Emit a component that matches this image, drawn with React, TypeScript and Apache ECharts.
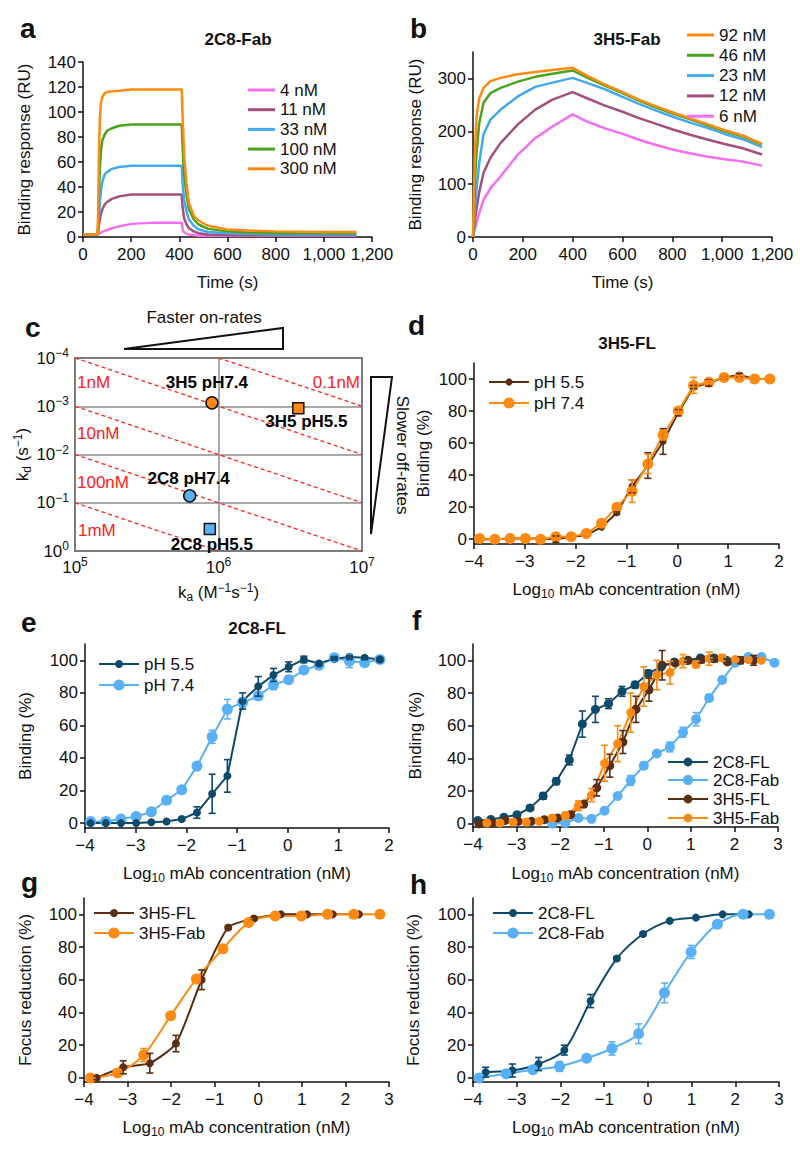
import React, { useEffect, useRef } from 'react';
import * as echarts from 'echarts';

const FONT = "'Liberation Sans', Arial, Helvetica, sans-serif";
const INK = '#111111';
const FS = 17;

const C_PINK = '#f46ef0';
const C_MAUVE = '#a44f7e';
const C_SKY = '#44a9f3';
const C_GREEN = '#4aa31c';
const C_ORANGE = '#ff8a12';
const C_BROWN = '#5a2e10';
const C_NAVY = '#0d4a6b';
const C_LIGHT = '#5ab0f7';
const C_RED = '#ff2020';

// ---------- panel a : 2C8-Fab sensorgram ----------
const aLabels = ['4 nM', '11 nM', '33 nM', '100 nM', '300 nM'];
const aTime = [0, 60, 63, 66, 70, 75, 80, 90, 100, 120, 150, 200, 300, 410, 413, 416, 420, 430, 440, 460, 480, 520, 600, 700, 800, 1000, 1135];
const a4nM = [2, 2, 2, 2.5, 3, 3.5, 4, 5, 5.5, 7, 8.5, 10.5, 11.5, 11.5, 7, 5, 4, 2.5, 2, 1.5, 1, 1, 1, 1, 1, 1, 1];
const a11nM = [2, 2, 4, 9, 14, 19, 22, 26, 28, 30.5, 32.5, 34, 34, 34, 25, 20, 15, 10, 7, 4.5, 3, 2, 1.5, 1.5, 1.5, 1.5, 1.5];
const a33nM = [2, 2, 6, 16, 28, 38, 44, 50, 52, 54.5, 56, 57, 57, 57, 45, 37, 30, 20, 14, 9, 6, 4, 3, 2.5, 2, 2, 2];
const a100nM = [2, 2, 10, 32, 55, 70, 77, 82, 85, 87, 89, 90, 90, 90, 75, 62, 50, 33, 22, 14, 10, 6.5, 4.5, 3.5, 3, 3, 3];
const a300nM = [2, 2, 20, 65, 95, 108, 112, 115, 116, 116.5, 117, 118, 118, 118, 100, 85, 65, 42, 27, 17, 13, 9, 6, 5, 4.5, 4, 4];

// ---------- panel b : 3H5-Fab sensorgram ----------
const bLabels = ['92 nM', '46 nM', '23 nM', '12 nM', '6 nM'];
const bTime = [0, 5, 10, 15, 25, 42, 70, 111, 180, 250, 319, 400, 460, 527, 600, 666, 735, 805, 875, 943, 1010, 1082, 1160];
const b92nM = [0, 110, 190, 230, 262, 282, 295, 301, 308, 312, 316, 320, 305, 289, 274, 260, 247, 235, 224, 213, 202, 192, 176];
const b46nM = [0, 65, 125, 165, 215, 254, 272, 282, 294, 303, 309, 315, 301, 287, 272, 258, 245, 233, 222, 211, 200, 190, 175];
const b23nM = [0, 35, 65, 95, 140, 194, 222, 241, 266, 284, 292, 301, 291, 280, 265, 252, 239, 227, 216, 206, 195, 185, 170];
const b12nM = [0, 20, 40, 55, 85, 121, 150, 178, 213, 241, 260, 274, 262, 249, 237, 225, 214, 203, 193, 184, 176, 168, 156];
const b6nM = [0, 10, 20, 28, 45, 70, 92, 115, 156, 187, 209, 232, 218, 206, 195, 184, 174, 165, 158, 152, 147, 143, 135];

// ---------- panel c : kinetics map ----------
const cNames = ['3H5 pH7.4', '3H5 pH5.5', '2C8 pH7.4', '2C8 pH5.5'];
const cKa = [9.0e5, 3.6e6, 6.3e5, 8.7e5];
const cKd = [8.5e-4, 1.1e-3, 7.2e-2, 3.5e-1];
const cKD = [1e-10, 1e-9, 1e-8, 1e-7, 1e-6];
const cKDLabels = ['0.1nM', '1nM', '10nM', '100nM', '1mM'];

// ---------- panel d : 3H5-FL ----------
const dX = [-3.89, -3.59, -3.29, -2.99, -2.69, -2.39, -2.09, -1.79, -1.49, -1.19, -0.89, -0.58, -0.28, 0.02, 0.32, 0.62, 0.92, 1.22, 1.52, 1.82];
const dPH55 = [0, 0, 0.5, 0.5, 0.5, 0, 1.5, 2.5, 7.5, 16.5, 33, 46, 61, 79, 95, 97.5, 101, 102.5, 100, 100];
const dPH55Err = [0, 0, 0, 0, 0, 2, 0, 0, 0, 1, 4, 8, 8, 2, 1, 2, 1, 1, 0, 0];
const dPH74 = [0.5, 0, 0.5, 0.5, 0, 1.5, 1.5, 3.5, 10, 20, 30, 47, 65, 80, 96, 98, 101, 101, 100, 100];
const dPH74Err = [0, 0, 0, 0, 0, 2, 1, 1, 1, 2, 7, 6, 3, 2, 5, 1, 1, 1, 0, 0];

// ---------- panel e : 2C8-FL ----------
const eX = [-3.89, -3.59, -3.29, -2.99, -2.69, -2.39, -2.09, -1.79, -1.49, -1.19, -0.89, -0.58, -0.28, 0.02, 0.32, 0.62, 0.92, 1.22, 1.52, 1.82];
const ePH55 = [0, 0, 0, 0, 0.5, 1, 2.5, 6.5, 18, 29, 75, 84, 91, 96, 100.5, 98, 101, 102, 101.5, 100.5];
const ePH55Err = [0, 0, 0, 0, 0, 0, 1, 3.5, 12, 10, 5, 6, 4, 3, 2, 1, 1, 1, 1, 1];
const ePH74 = [1, 1, 2.5, 4, 7, 14, 20.5, 35, 53, 70, 74, 78, 85, 88, 94, 97, 101.5, 99.5, 98.5, 100.5];
const ePH74Err = [0, 0, 0, 0, 0, 0, 1, 1, 4, 6, 3, 2, 3, 2, 2, 0, 2, 4, 1, 0];

// ---------- panel f : binding, FL vs Fab ----------
const f2C8FLX = [-3.89, -3.59, -3.29, -2.99, -2.69, -2.39, -2.09, -1.79, -1.49, -1.19, -0.89, -0.58, -0.28, 0.02, 0.32, 0.62, 0.92, 1.22, 1.52, 1.82];
const f2C8FL = [2, 2.6, 4, 5.5, 9.7, 17, 26, 39, 61, 70, 73.5, 81, 85, 92, 96, 99, 100, 101.5, 101.5, 100];
const f2C8FLErr = [0, 0, 0, 0, 1.5, 2, 2, 3, 8, 8, 3, 3, 2, 2, 1, 1, 1, 1, 1, 1];
const f2C8FabX = [-2.18, -1.88, -1.58, -1.28, -0.98, -0.68, -0.38, -0.08, 0.22, 0.52, 0.82, 1.12, 1.42, 1.72, 2.02, 2.32, 2.62, 2.92];
const f2C8Fab = [0, 0.5, 3.5, 3, 8, 17, 26.5, 35.5, 43, 47, 56, 64, 77, 88, 98.5, 102, 102, 98.5];
const f2C8FabErr = [0, 0, 0, 0, 0, 0, 3, 2, 1, 3, 3, 4, 2, 1, 1, 1, 1, 0];
const f3H5FLX = [-3.86, -3.56, -3.26, -2.96, -2.66, -2.36, -2.06, -1.76, -1.46, -1.16, -0.86, -0.56, -0.26, 0.04, 0.34, 0.64, 0.94, 1.24, 1.54, 1.84, 2.14, 2.44];
const f3H5FL = [0, 0.5, 2, 1.5, 1.5, 2.5, 3.5, 5.5, 12, 22, 35.5, 50, 70, 82, 97, 98.5, 100, 100.5, 101, 99, 100, 100];
const f3H5FLErr = [0, 0, 0, 0, 0, 0, 0, 0, 2, 5, 7, 7, 8, 7, 9, 1, 1, 2, 2, 1, 2, 3];
const f3H5FabX = [-3.68, -3.38, -3.08, -2.78, -2.48, -2.18, -1.88, -1.58, -1.28, -0.98, -0.68, -0.38, -0.08, 0.22, 0.52, 0.82, 1.12, 1.42, 1.72, 2.02, 2.32, 2.62];
const f3H5Fab = [0.5, 0.5, 1, 1, 1.5, 3.5, 5, 11, 17.5, 37, 49, 68, 84, 91, 92.5, 99.5, 97.5, 101, 101.5, 100.5, 100.5, 100];
const f3H5FabErr = [0, 0, 0, 0, 0, 1, 2, 3, 4, 11, 11, 12, 12, 9, 7, 4, 2, 4, 2, 1, 1, 1];

// ---------- panel g : focus reduction 3H5 ----------
const g3H5FLX = [-3.71, -3.10, -2.49, -1.89, -1.30, -0.69, -0.10, 0.52, 1.12, 1.71, 2.31];
const g3H5FL = [0, 6.5, 9, 21, 60, 92, 97.5, 100, 100, 100, 100];
const g3H5FLErr = [1, 4, 6, 5, 6, 1, 1, 0, 0, 0, 0];
const g3H5FabX = [-3.85, -3.23, -2.63, -2.01, -1.42, -0.81, -0.22, 0.39, 0.99, 1.59, 2.19, 2.79];
const g3H5Fab = [0, 3, 14, 38, 60.5, 79, 95, 99, 99, 100, 100, 100];
const g3H5FabErr = [0, 1, 4, 1, 2, 1, 1, 0, 0, 0, 0, 0];

// ---------- panel h : focus reduction 2C8 ----------
const h2C8FLX = [-3.71, -3.10, -2.50, -1.91, -1.31, -0.71, -0.11, 0.50, 1.10, 1.71, 2.31];
const h2C8FL = [3.5, 4.5, 8.5, 17, 47, 73, 88, 96, 98, 100, 100];
const h2C8FLErr = [3, 4, 4, 3, 4, 1, 1, 0, 0, 0, 0];
const h2C8FabX = [-3.86, -3.24, -2.63, -2.02, -1.40, -0.82, -0.21, 0.38, 0.99, 1.59, 2.18, 2.78];
const h2C8Fab = [0, 2.5, 5, 7, 12, 18, 27, 52, 77, 94, 100, 100];
const h2C8FabErr = [0, 1, 2, 3, 1, 4, 6, 6, 4, 1, 0, 0];

const pctTicks = [0, 20, 40, 60, 80, 100];

// ------------------------------------------------------------
const strip = (n: string) => n.slice(2);
const lineStyleAxis = { color: INK, width: 1.5 };
const richDefs = {
  sub: { fontSize: 12, fontFamily: FONT, color: INK, verticalAlign: 'bottom' as const },
  sup: { fontSize: 12, fontFamily: FONT, color: INK, verticalAlign: 'top' as const },
};
const nameStyle = { fontSize: FS, fontFamily: FONT, color: INK, lineHeight: 21, rich: richDefs };
const labelBase = { fontSize: FS, fontFamily: FONT, color: INK };
const minusFmt = (v: number) => (v < 0 ? '\u2212' + Math.abs(v) : String(v));
const thouFmt = (v: number) => v.toLocaleString('en-US');

function xAxisV(grid: number, min: number, max: number, interval: number, name: string, nameGap: number, fmt: (v: number) => string) {
  return {
    type: 'value', gridIndex: grid, min, max, interval, name, nameLocation: 'middle', nameGap,
    nameTextStyle: nameStyle,
    axisLine: { show: true, onZero: false, lineStyle: lineStyleAxis },
    axisTick: { show: true, length: 5, lineStyle: lineStyleAxis },
    axisLabel: { ...labelBase, margin: 9, formatter: fmt },
    splitLine: { show: false },
  };
}
function yAxisV(grid: number, min: number, max: number, ticks: number[], name: string, nameGap: number) {
  return {
    type: 'value', gridIndex: grid, min, max, name, nameLocation: 'middle', nameGap,
    nameTextStyle: nameStyle,
    axisLine: { show: true, onZero: false, lineStyle: lineStyleAxis },
    axisTick: { show: true, length: 5, lineStyle: lineStyleAxis, customValues: ticks },
    axisLabel: { ...labelBase, margin: 7, customValues: ticks },
    splitLine: { show: false },
  };
}

function trace(name: string, grid: number, xs: number[], ys: number[], color: string) {
  return {
    type: 'line', name, xAxisIndex: grid, yAxisIndex: grid,
    data: xs.map((x, i) => [x, ys[i]]),
    symbol: 'none', showSymbol: false, color,
    lineStyle: { color, width: 2.5 }, silent: true,
  };
}
function curve(name: string, grid: number, xs: number[], ys: number[], color: string, size: number, smooth: number | boolean) {
  return {
    type: 'line', name, xAxisIndex: grid, yAxisIndex: grid,
    data: xs.map((x, i) => [x, ys[i]]),
    symbol: 'circle', symbolSize: size, showSymbol: true, color,
    itemStyle: { color, opacity: 1 }, lineStyle: { color, width: 2 }, smooth, z: 3, silent: true,
  };
}
function errRender(color: string) {
  return (_p: any, api: any) => {
    const x = api.value(0);
    const top = api.coord([x, api.value(2)]);
    const bot = api.coord([x, api.value(1)]);
    const cap = 3.5;
    const style = { stroke: color, lineWidth: 1.6 };
    return {
      type: 'group',
      children: [
        { type: 'line', shape: { x1: top[0], y1: top[1], x2: bot[0], y2: bot[1] }, style },
        { type: 'line', shape: { x1: top[0] - cap, y1: top[1], x2: top[0] + cap, y2: top[1] }, style },
        { type: 'line', shape: { x1: bot[0] - cap, y1: bot[1], x2: bot[0] + cap, y2: bot[1] }, style },
      ],
    };
  };
}
function errs(name: string, grid: number, xs: number[], ys: number[], es: number[], color: string) {
  const data = xs.map((x, i) => [x, ys[i] - es[i], ys[i] + es[i]]).filter((_d, i) => es[i] > 0);
  return {
    type: 'custom', name, xAxisIndex: grid, yAxisIndex: grid, data,
    renderItem: errRender(color), z: 4, silent: true, encode: { x: 0, y: [1, 2] },
  };
}
function oneLegend(name: string, left: number, cy: number, symbolSize: number) {
  const ih = Math.round(symbolSize / 0.8);
  return {
    data: [name], left, top: cy - Math.max(ih, FS) / 2, orient: 'horizontal',
    itemWidth: 40, itemHeight: ih, padding: 0, selectedMode: false,
    textStyle: { ...labelBase }, formatter: strip,
  };
}
function txt(text: string, x: number, y: number, size: number, opts: any = {}) {
  const align = opts.align || 'center';
  return {
    type: 'text', x, y, rotation: opts.rotation || 0, silent: true,
    style: {
      text, fill: opts.color || INK, fontSize: size, fontFamily: FONT,
      fontWeight: opts.bold ? 'bold' : 'normal',
      align, verticalAlign: 'middle', textAlign: align, textVerticalAlign: 'middle',
    },
  };
}

function buildOption() {
  const grids = [
    { left: 83, top: 62, width: 289, height: 175 },                 // a
    { left: 473, top: 52, width: 299, height: 185 },                // b
    { left: 75, top: 358, width: 287, height: 193, show: true, borderColor: INK, borderWidth: 1.5, backgroundColor: 'transparent' }, // c
    { left: 474, top: 363, width: 305, height: 181 },               // d
    { left: 85, top: 644, width: 304, height: 184 },                // e
    { left: 473, top: 644, width: 305, height: 183 },               // f
    { left: 84, top: 898, width: 305, height: 184 },                // g
    { left: 473, top: 898, width: 306, height: 184 },               // h
  ];

  const logLabel = {
    ...labelBase, lineHeight: 22,
    rich: { sup: { fontSize: 12, fontFamily: FONT, color: INK, verticalAlign: 'top' as const } },
  };
  const expFmt = (v: number) => {
    const e = Math.round(Math.log10(v));
    return '10{sup|' + (e < 0 ? '\u2212' + Math.abs(e) : String(e)) + '}';
  };
  const concName = 'Log{sub|10} mAb concentration (nM)';

  const xAxes: any[] = [
    xAxisV(0, 0, 1200, 200, 'Time (s)', 35, thouFmt),
    xAxisV(1, 0, 1200, 200, 'Time (s)', 35, thouFmt),
    {
      type: 'log', logBase: 10, gridIndex: 2, min: 1e5, max: 1e7,
      name: 'k{sub|a} (M{sup|\u22121}s{sup|\u22121})', nameLocation: 'middle', nameGap: 31,
      nameTextStyle: nameStyle,
      axisLine: { show: false }, axisTick: { show: false },
      axisLabel: { ...logLabel, margin: 5, formatter: expFmt },
      splitLine: { show: true, lineStyle: { color: '#8c8c8c', width: 1.5 } },
    },
    xAxisV(3, -4, 2, 1, concName, 35, minusFmt),
    xAxisV(4, -4, 2, 1, concName, 35, minusFmt),
    xAxisV(5, -4, 3, 1, concName, 36, minusFmt),
    xAxisV(6, -4, 3, 1, concName, 35, minusFmt),
    xAxisV(7, -4, 3, 1, concName, 35, minusFmt),
  ];
  const yAxes: any[] = [
    yAxisV(0, 0, 140, [0, 20, 40, 60, 80, 100, 120, 140], 'Binding response (RU)', 48),
    yAxisV(1, 0, 350, [0, 100, 200, 300], 'Binding response (RU)', 47),
    {
      type: 'log', logBase: 10, gridIndex: 2, min: 1e-4, max: 1, inverse: true,
      name: 'k{sub|d} (s{sup|\u22121})', nameLocation: 'middle', nameGap: 40,
      nameTextStyle: nameStyle,
      axisLine: { show: false }, axisTick: { show: false },
      axisLabel: { ...logLabel, margin: 6, formatter: expFmt },
      splitLine: { show: true, lineStyle: { color: '#8c8c8c', width: 1.5 } },
    },
    yAxisV(3, -3, 110, pctTicks, 'Binding (%)', 40),
    yAxisV(4, -3, 110, pctTicks, 'Binding (%)', 49),
    yAxisV(5, -2, 110, pctTicks, 'Binding (%)', 47),
    yAxisV(6, -2.5, 110, pctTicks, 'Focus reduction (%)', 48),
    yAxisV(7, -2.5, 110, pctTicks, 'Focus reduction (%)', 49),
  ];

  const series: any[] = [];
  // a
  const aSets = [a4nM, a11nM, a33nM, a100nM, a300nM];
  const aColors = [C_PINK, C_MAUVE, C_SKY, C_GREEN, C_ORANGE];
  aSets.forEach((ys, i) => series.push(trace('a:' + aLabels[i], 0, aTime, ys, aColors[i])));
  // b (draw lowest first)
  const bSets = [b92nM, b46nM, b23nM, b12nM, b6nM];
  const bColors = [C_ORANGE, C_GREEN, C_SKY, C_MAUVE, C_PINK];
  for (let i = bSets.length - 1; i >= 0; i--) series.push(trace('b:' + bLabels[i], 1, bTime, bSets[i], bColors[i]));

  // c: iso-affinity lines
  cKD.forEach((kd, i) => {
    const ka0 = Math.max(1e5, 1e-4 / kd);
    const ka1 = Math.min(1e7, 1 / kd);
    series.push({
      type: 'line', name: 'c:iso' + i, xAxisIndex: 2, yAxisIndex: 2,
      data: [[ka0, kd * ka0], [ka1, kd * ka1]], symbol: 'none', silent: true,
      lineStyle: { color: C_RED, width: 1.3, type: [4, 3] }, z: 2,
    });
  });
  const cLook = [
    { symbol: 'circle', size: 12, color: C_ORANGE, pos: 'top', dist: 5, off: [-5, 0] },
    { symbol: 'rect', size: 11, color: C_ORANGE, pos: 'bottom', dist: 0, off: [8, -1] },
    { symbol: 'circle', size: 12, color: C_LIGHT, pos: 'top', dist: 2, off: [-1, 0] },
    { symbol: 'rect', size: 11, color: C_LIGHT, pos: 'bottom', dist: 1, off: [2, 0] },
  ];
  series.push({
    type: 'scatter', name: 'c:points', xAxisIndex: 2, yAxisIndex: 2, z: 5, silent: true,
    data: cNames.map((n, i) => ({
      name: n, value: [cKa[i], cKd[i]], symbol: cLook[i].symbol, symbolSize: cLook[i].size,
      itemStyle: { color: cLook[i].color, borderColor: INK, borderWidth: 1.5, opacity: 1 },
      label: {
        show: true, formatter: '{b}', position: cLook[i].pos, distance: cLook[i].dist, offset: cLook[i].off,
        fontSize: FS, fontWeight: 'bold', fontFamily: FONT, color: '#000000', opacity: 1,
      },
    })),
  });

  // d
  series.push(curve('d:pH 5.5', 3, dX, dPH55, C_BROWN, 7, false));
  series.push(curve('d:pH 7.4', 3, dX, dPH74, C_ORANGE, 11, false));
  series.push(errs('d:e55', 3, dX, dPH55, dPH55Err, C_BROWN));
  series.push(errs('d:e74', 3, dX, dPH74, dPH74Err, C_ORANGE));
  // e
  series.push(curve('e:pH 7.4', 4, eX, ePH74, C_LIGHT, 11, false));
  series.push(curve('e:pH 5.5', 4, eX, ePH55, C_NAVY, 8, false));
  series.push(errs('e:e74', 4, eX, ePH74, ePH74Err, C_LIGHT));
  series.push(errs('e:e55', 4, eX, ePH55, ePH55Err, C_NAVY));
  // f
  series.push(curve('f:2C8-FL', 5, f2C8FLX, f2C8FL, C_NAVY, 9, false));
  series.push(curve('f:2C8-Fab', 5, f2C8FabX, f2C8Fab, C_LIGHT, 10, false));
  series.push(curve('f:3H5-FL', 5, f3H5FLX, f3H5FL, C_BROWN, 9, false));
  series.push(curve('f:3H5-Fab', 5, f3H5FabX, f3H5Fab, C_ORANGE, 9, false));
  series.push(errs('f:e1', 5, f2C8FLX, f2C8FL, f2C8FLErr, C_NAVY));
  series.push(errs('f:e2', 5, f2C8FabX, f2C8Fab, f2C8FabErr, C_LIGHT));
  series.push(errs('f:e3', 5, f3H5FLX, f3H5FL, f3H5FLErr, C_BROWN));
  series.push(errs('f:e4', 5, f3H5FabX, f3H5Fab, f3H5FabErr, C_ORANGE));
  // g
  series.push(curve('g:3H5-FL', 6, g3H5FLX, g3H5FL, C_BROWN, 8, 0.2));
  series.push(curve('g:3H5-Fab', 6, g3H5FabX, g3H5Fab, C_ORANGE, 11, 0.3));
  series.push(errs('g:e1', 6, g3H5FLX, g3H5FL, g3H5FLErr, C_BROWN));
  series.push(errs('g:e2', 6, g3H5FabX, g3H5Fab, g3H5FabErr, C_ORANGE));
  // h
  series.push(curve('h:2C8-FL', 7, h2C8FLX, h2C8FL, C_NAVY, 8, 0.3));
  series.push(curve('h:2C8-Fab', 7, h2C8FabX, h2C8Fab, C_LIGHT, 11, 0.3));
  series.push(errs('h:e1', 7, h2C8FLX, h2C8FL, h2C8FLErr, C_NAVY));
  series.push(errs('h:e2', 7, h2C8FabX, h2C8Fab, h2C8FabErr, C_LIGHT));

  const legends: any[] = [
    {
      data: aLabels.map((l) => 'a:' + l), left: 248, top: 81.5, orient: 'vertical', icon: 'rect',
      itemWidth: 27, itemHeight: 3, itemGap: 2.7, padding: 0, selectedMode: false,
      textStyle: { ...labelBase }, formatter: strip,
    },
    {
      data: bLabels.map((l) => 'b:' + l), left: 687, top: 26.5, orient: 'vertical', icon: 'rect',
      itemWidth: 27, itemHeight: 3, itemGap: 3.3, padding: 0, selectedMode: false,
      textStyle: { ...labelBase }, formatter: strip,
    },
    oneLegend('d:pH 5.5', 488, 382, 7),
    oneLegend('d:pH 7.4', 488, 403, 11),
    oneLegend('e:pH 5.5', 98, 664, 8),
    oneLegend('e:pH 7.4', 98, 685, 11),
    oneLegend('f:2C8-FL', 667, 762, 9),
    oneLegend('f:2C8-Fab', 667, 780, 10),
    oneLegend('f:3H5-FL', 667, 799, 9),
    oneLegend('f:3H5-Fab', 667, 818, 9),
    oneLegend('g:3H5-FL', 93, 913, 8),
    oneLegend('g:3H5-Fab', 93, 933, 11),
    oneLegend('h:2C8-FL', 492, 913, 8),
    oneLegend('h:2C8-Fab', 492, 933, 11),
  ];

  const graphics: any[] = [
    // panel letters
    txt('a', 20, 28, 28, { bold: true, align: 'left' }),
    txt('b', 410, 28, 28, { bold: true, align: 'left' }),
    txt('c', 25, 327, 28, { bold: true, align: 'left' }),
    txt('d', 408, 325, 28, { bold: true, align: 'left' }),
    txt('e', 21, 622, 28, { bold: true, align: 'left' }),
    txt('f', 412, 620, 28, { bold: true, align: 'left' }),
    txt('g', 21, 882, 28, { bold: true, align: 'left' }),
    txt('h', 410, 884, 28, { bold: true, align: 'left' }),
    // titles
    txt('2C8-Fab', 238, 39, FS, { bold: true }),
    txt('3H5-Fab', 627, 39, FS, { bold: true }),
    txt('3H5-FL', 627, 343, FS, { bold: true }),
    txt('2C8-FL', 257, 628, FS, { bold: true }),
    // panel c annotations
    txt('Faster on-rates', 204, 317, FS),
    {
      type: 'polygon', silent: true,
      shape: { points: [[124, 349], [283, 328], [283, 349]] },
      style: { fill: 'none', stroke: INK, lineWidth: 2 },
    },
    {
      type: 'polygon', silent: true,
      shape: { points: [[371, 377], [392, 377], [371, 534]] },
      style: { fill: 'none', stroke: INK, lineWidth: 2 },
    },
    txt('Slower off-rates', 402, 455, FS, { rotation: -Math.PI / 2 }),
    txt(cKDLabels[0], 360, 382, FS, { color: C_RED, align: 'right' }),
    txt(cKDLabels[1], 77, 382, FS, { color: C_RED, align: 'left' }),
    txt(cKDLabels[2], 77, 433, FS, { color: C_RED, align: 'left' }),
    txt(cKDLabels[3], 77, 482, FS, { color: C_RED, align: 'left' }),
    txt(cKDLabels[4], 78, 530, FS, { color: C_RED, align: 'left' }),
  ];

  return {
    animation: false,
    backgroundColor: '#ffffff',
    textStyle: { fontFamily: FONT },
    grid: grids,
    xAxis: xAxes,
    yAxis: yAxes,
    legend: legends,
    series,
    graphic: { elements: graphics },
  };
}

export default function App() {
  const ref = useRef<HTMLDivElement>(null);
  useEffect(() => {
    document.body.style.margin = '0';
    const chart = echarts.init(ref.current as HTMLDivElement, null, { renderer: 'svg', width: 800, height: 1155 });
    chart.setOption(buildOption() as any);
    return () => chart.dispose();
  }, []);
  return (
    <div
      ref={ref}
      style={{ position: 'absolute', left: 0, top: 0, width: 800, height: 1155, background: '#ffffff' }}
    />
  );
}
